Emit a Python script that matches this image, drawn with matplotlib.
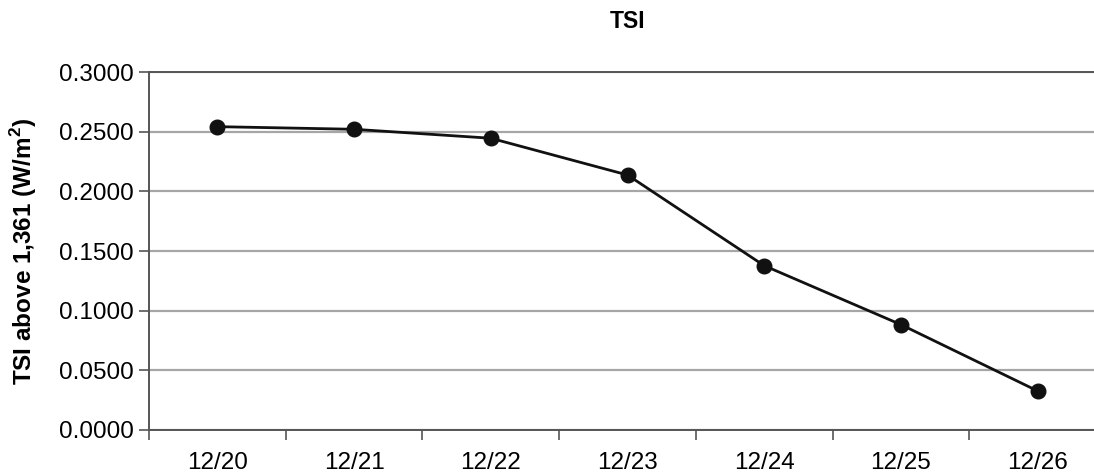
import matplotlib
matplotlib.use('Agg')
import matplotlib.pyplot as plt
import numpy as np

plt.rcParams['font.family'] = ['Liberation Sans', 'DejaVu Sans']

# データ
dates = ['12/20', '12/21', '12/22', '12/23', '12/24', '12/25', '12/26']
tsi_above = [0.2542, 0.2520, 0.2445, 0.2137, 0.1377, 0.0883, 0.0327]
y_ticks = [0.0, 0.05, 0.10, 0.15, 0.20, 0.25, 0.30]

fig = plt.figure(figsize=(10.94, 4.75), dpi=100)
# plot area runs past the right edge of the figure (cropped like the original)
ax = fig.add_axes([149/1094, 45/475, 957/1094, 358/475])

x = np.arange(len(dates))
ax.plot(x, tsi_above, color='#111111', lw=2.0, marker='o', ms=10.5, zorder=3)

ax.set_xlim(-0.5, len(dates) - 0.5)
ax.set_ylim(0, 0.3)
ax.set_yticks(y_ticks, [f'{v:.4f}' for v in y_ticks], fontsize=17.5)
ax.yaxis.grid(True, color='#a6a6a6', lw=1.6)
ax.set_axisbelow(True)

# 目盛りはカテゴリの境界に
ax.set_xticks(np.arange(len(dates)) - 0.5)
ax.set_xticklabels([])
ax.set_xticks(x, dates, minor=True, fontsize=17.5)
ax.tick_params(axis='x', which='minor', length=0, pad=16)
ax.tick_params(axis='x', which='major', length=7, width=1.2, color='#555555')
ax.tick_params(axis='y', length=7, width=1.2, color='#555555', pad=4)

for s in ['left', 'bottom', 'top']:
    ax.spines[s].set_color('#555555')
    ax.spines[s].set_linewidth(1.4)
ax.spines['right'].set_visible(False)

ax.set_ylabel('TSI above 1,361 (W/m$^\\mathregular{2}$)', fontsize=17.5, fontweight='bold', labelpad=14)
ax.set_title('TSI', fontsize=16.5, fontweight='bold', pad=32)

plt.savefig('out.png', dpi=100)
